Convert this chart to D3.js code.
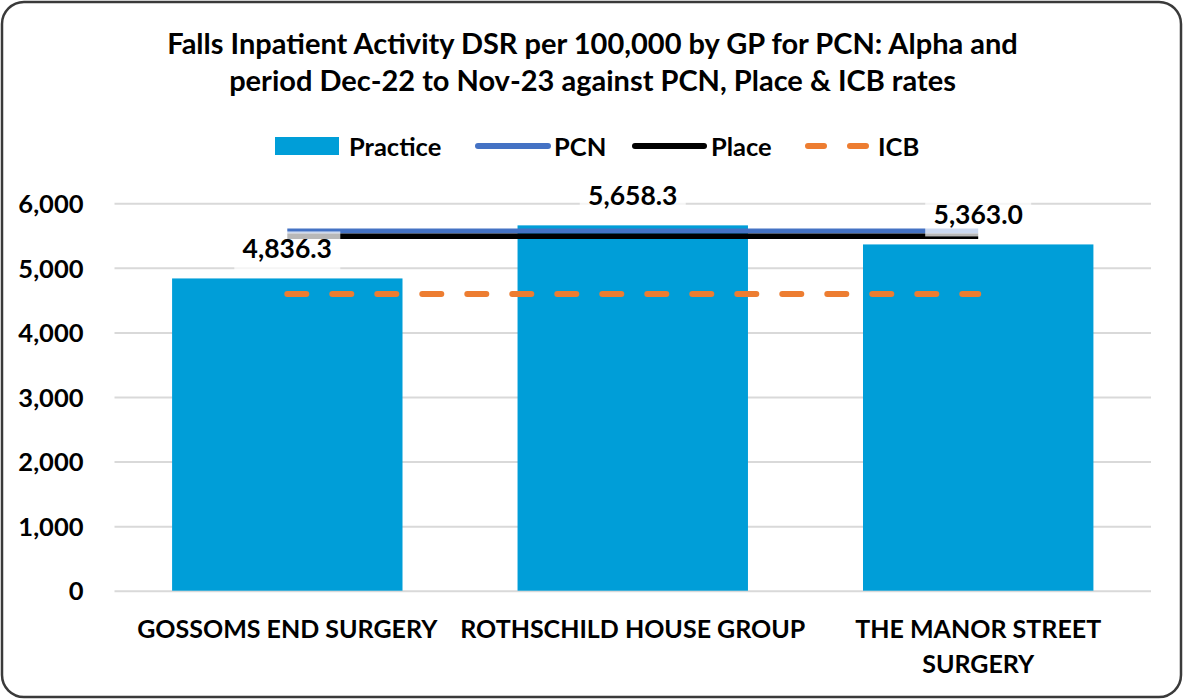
<!DOCTYPE html>
<html>
<head>
<meta charset="utf-8">
<script src="https://cdn.jsdelivr.net/npm/d3@7"></script>
<style>
  body { margin: 0; background: #fff; }
  svg text { font-family: Lato, "Open Sans", sans-serif; font-weight: bold; fill: #000; }
</style>
</head>
<body>
<svg width="1183" height="699"></svg>
<script>
let categorias = [
    ["GOSSOMS END SURGERY"],
    ["ROTHSCHILD HOUSE GROUP"],
    ["THE MANOR STREET", "SURGERY"]
];
let pratica = [4836.3, 5658.3, 5363.0];
let pcn = [5570, 5570, 5570];
let place = [5490, 5490, 5490];
let icb = [4595, 4595, 4595];
let ticks_y = [0, 1000, 2000, 3000, 4000, 5000, 6000];
let titulo = [
    "Falls Inpatient Activity DSR per 100,000 by GP for PCN: Alpha and",
    "period Dec-22 to Nov-23 against PCN, Place & ICB rates"
];

let $svg = d3.select("svg");
let w = 1183, h = 699;

let m_esq = 114.5, m_dir = 1151, m_topo = 203.3, m_base = 590.7;

let nomes = categorias.map(d => d.join(" "));

let x = d3.scaleBand()
    .domain(nomes)
    .range([m_esq, m_dir])
    .paddingInner(0.333)
    .paddingOuter(0.1667);

let y = d3.scaleLinear()
    .domain([0, 6000])
    .range([m_base, m_topo]);

let centro = i => x(nomes[i]) + x.bandwidth() / 2;

// moldura
$svg.append("rect")
    .attr("x", 2).attr("y", 2)
    .attr("width", w - 4).attr("height", h - 4)
    .attr("rx", 22)
    .attr("fill", "#fff")
    .attr("stroke", "#3a3a3a")
    .attr("stroke-width", 2.5);

// titulo
$svg.selectAll("text.titulo").data(titulo).enter()
    .append("text")
    .classed("titulo", true)
    .attr("x", w / 2 + 1)
    .attr("y", (d, i) => 54 + i * 37)
    .attr("text-anchor", "middle")
    .style("font-size", "29px")
    .text(d => d);

// eixo y + grade
let eixo_y = $svg.append("g")
    .attr("transform", `translate(${m_esq},0)`)
    .call(d3.axisLeft(y)
        .tickValues(ticks_y)
        .tickSize(-(m_dir - m_esq))
        .tickPadding(31)
        .tickFormat(d3.format(",")));

eixo_y.select(".domain").remove();
eixo_y.selectAll(".tick line")
    .attr("stroke", "#d9d9d9")
    .attr("stroke-width", 2);
eixo_y.selectAll(".tick text")
    .attr("dy", "0.36em")
    .style("font-size", "25.5px")
    .style("font-family", "Lato, sans-serif");

// barras
$svg.selectAll("rect.barras").data(pratica).enter()
    .append("rect")
    .classed("barras", true)
    .attr("x", (d, i) => x(nomes[i]))
    .attr("y", d => y(d))
    .attr("width", x.bandwidth())
    .attr("height", d => y(0) - y(d))
    .attr("fill", "#009ed8");

// linhas
let linha = d3.line()
    .x((d, i) => centro(i))
    .y(d => y(d));

$svg.append("path")
    .attr("d", linha(icb))
    .attr("fill", "none")
    .attr("stroke", "#ed7d31")
    .attr("stroke-width", 6)
    .attr("stroke-linecap", "round")
    .attr("stroke-dasharray", "19 26");

$svg.append("path")
    .attr("d", linha(pcn))
    .attr("fill", "none")
    .attr("stroke", "#4472c4")
    .attr("stroke-width", 5);

$svg.append("path")
    .attr("d", linha(place))
    .attr("fill", "none")
    .attr("stroke", "#000")
    .attr("stroke-width", 5.5);

// rotulos de dados
let rotulos = $svg.selectAll("g.rotulo").data(pratica).enter()
    .append("g")
    .classed("rotulo", true)
    .attr("transform", (d, i) => `translate(${centro(i)},${y(d) - 20})`);

rotulos.append("rect")
    .attr("x", -53).attr("y", -27)
    .attr("width", 106).attr("height", 39)
    .attr("fill", "#fff")
    .attr("opacity", 0.72);

rotulos.append("text")
    .attr("text-anchor", "middle")
    .style("font-size", "26.5px")
    .text(d => d3.format(",.1f")(d));

// eixo x
let rot_x = $svg.selectAll("text.cat").data(categorias).enter()
    .append("text")
    .classed("cat", true)
    .attr("text-anchor", "middle")
    .attr("transform", (d, i) => `translate(${centro(i)},638)`)
    .style("font-size", "25px");

rot_x.selectAll("tspan").data(d => d).enter()
    .append("tspan")
    .attr("x", 0)
    .attr("dy", (d, i) => i == 0 ? 0 : 35)
    .text(d => d);

// legenda
let leg = $svg.append("g").attr("transform", "translate(0,146)");

leg.append("rect")
    .attr("x", 275).attr("y", -9)
    .attr("width", 64).attr("height", 18)
    .attr("fill", "#009ed8");

let itens_linha = [
    { x1: 478, x2: 548, cor: "#4472c4", dash: null, cap: "round" },
    { x1: 635, x2: 704, cor: "#000", dash: null, cap: "round" },
    { x1: 808, x2: 872, cor: "#ed7d31", dash: "16 26", cap: "round" }
];

leg.selectAll("line").data(itens_linha).enter()
    .append("line")
    .attr("x1", d => d.x1).attr("x2", d => d.x2)
    .attr("y1", 0).attr("y2", 0)
    .attr("stroke", d => d.cor)
    .attr("stroke-width", 6)
    .attr("stroke-linecap", d => d.cap)
    .attr("stroke-dasharray", d => d.dash);

let textos_leg = [["Practice", 349], ["PCN", 554], ["Place", 711], ["ICB", 878]];

leg.selectAll("text").data(textos_leg).enter()
    .append("text")
    .attr("x", d => d[1])
    .attr("y", 9.5)
    .style("font-size", "25.5px")
    .text(d => d[0]);
</script>
</body>
</html>
